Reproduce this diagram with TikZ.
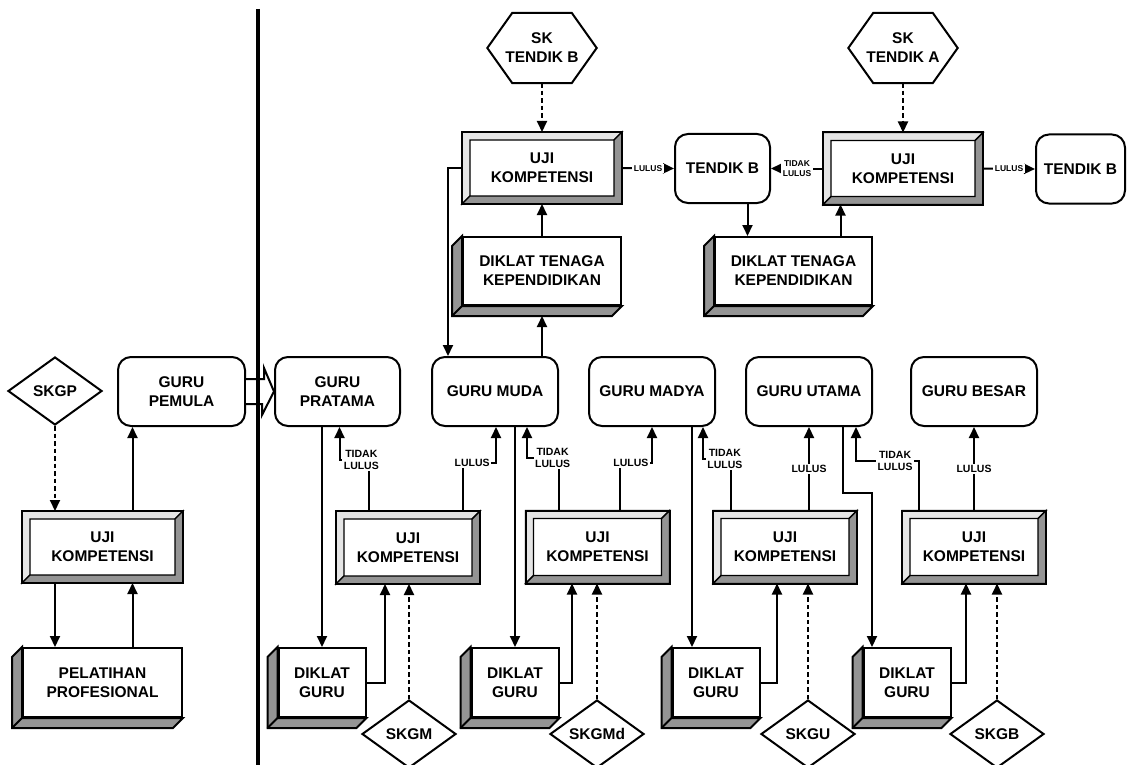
\documentclass[tikz,border=0pt]{standalone}
\usepackage{fontspec}
\setmainfont{Liberation Sans}
\usetikzlibrary{arrows.meta}
\usetikzlibrary{calc}
\usetikzlibrary{shapes.geometric}
\colorlet{bevlight}{black!10}
\colorlet{bevdark}{black!42}
\tikzset{
	every node/.style={font=\fontsize{15.5}{19}\selectfont\bfseries,align=center},
	grade/.style={rectangle,rounded corners=13pt,draw,line width=2pt,fill=white,minimum width=126pt,minimum height=69pt,inner sep=0pt},
	uji/.style={rectangle,draw,line width=2pt,fill=white,minimum width=142pt,minimum height=71pt,inner sep=0pt},
	diklat/.style={rectangle,draw,line width=2pt,fill=white,minimum width=87pt,minimum height=69pt,inner sep=0pt},
	sk/.style={diamond,aspect=1.4,draw,line width=2pt,fill=white,minimum width=94pt,minimum height=68pt,inner sep=0pt},
	hexa/.style={rectangle,minimum width=109pt,minimum height=70pt,inner sep=0pt},
	kern/.style={line width=2pt,-{Triangle[length=11pt,width=10pt]}},
	dkern/.style={kern,dash pattern=on 4.5pt off 3pt},
	labl/.style={fill=white,inner sep=1.5pt,font=\fontsize{10.5}{12.5}\selectfont\bfseries},
	slabl/.style={labl,font=\fontsize{8.5}{9.5}\selectfont\bfseries},
}
\begin{document}
\begin{tikzpicture}[x=1pt,y=-1pt]
\useasboundingbox (0,0) rectangle (1127,765);

\node (skgp) at (55,391) [sk] {SKGP};
\node (pemula) at (181.5,391.5) [grade,minimum width=127pt] {GURU\\PEMULA};
\node (ujip) at (102.5,547) [uji,minimum width=159pt,minimum height=70pt] {UJI\\KOMPETENSI};
\node (pel) at (102.5,682.5) [diklat,minimum width=159pt] {PELATIHAN\\PROFESIONAL};

\node (pratama) at (337.5,391.5) [grade,minimum width=125pt] {GURU\\PRATAMA};
\node (muda) at (495,391.5) [grade] {GURU MUDA};
\node (madya) at (652,391.5) [grade] {GURU MADYA};
\node (utama) at (809,391.5) [grade] {GURU UTAMA};
\node (besar) at (974,391.5) [grade] {GURU BESAR};

\node (uji1) at (408,547.5) [uji] {UJI\\KOMPETENSI};
\node (uji2) at (597.5,547) [uji] {UJI\\KOMPETENSI};
\node (uji3) at (785,547) [uji] {UJI\\KOMPETENSI};
\node (uji4) at (974,547) [uji] {UJI\\KOMPETENSI};

\node (dg1) at (322,682.5) [diklat] {DIKLAT\\GURU};
\node (dg2) at (515,682.5) [diklat] {DIKLAT\\GURU};
\node (dg3) at (716,682.5) [diklat] {DIKLAT\\GURU};
\node (dg4) at (907,682.5) [diklat] {DIKLAT\\GURU};

\node (skgm) at (409,734) [sk] {SKGM};
\node (skgmd) at (597,734) [sk] {SKGMd};
\node (skgu) at (808,734) [sk] {SKGU};
\node (skgb) at (997,734) [sk] {SKGB};

\node (skb) at (542,48) [hexa] {SK\\TENDIK B};
\node (ska) at (903,48) [hexa] {SK\\TENDIK A};
\node (ut1) at (542,168) [uji,minimum width=158pt,minimum height=70pt] {UJI\\KOMPETENSI};
\node (ut2) at (903,168.5) [uji,minimum width=158pt,minimum height=70pt] {UJI\\KOMPETENSI};
\node (tb1) at (722.5,168.5) [grade,minimum width=95pt] {TENDIK B};
\node (tb2) at (1080.5,169) [grade,minimum width=89pt] {TENDIK B};
\node (dtk1) at (542,271) [diklat,minimum width=158pt,minimum height=68pt] {DIKLAT TENAGA\\KEPENDIDIKAN};
\node (dtk2) at (793.5,271) [diklat,minimum width=157pt,minimum height=68pt] {DIKLAT TENAGA\\KEPENDIDIKAN};

\foreach \n in {skb,ska}
  \draw[line width=2pt] (\n.west) -- ([xshift=25pt]\n.north west) -- ([xshift=-25pt]\n.north east) -- (\n.east) -- ([xshift=-25pt]\n.south east) -- ([xshift=25pt]\n.south west) -- cycle;
\foreach \n in {ujip,uji1,uji2,uji3,uji4,ut1,ut2} {
  \draw[line width=1.4pt,fill=bevlight] (\n.south west) |- (\n.north east) -- ++(-8,8) -| ($(\n.south west)+(8,-8)$) -- cycle;
  \draw[line width=1.4pt,fill=bevdark] (\n.north east) |- (\n.south west) -- ++(8,-8) -| ($(\n.north east)+(-8,8)$) -- cycle;
  \draw[line width=2pt] (\n.south west) rectangle (\n.north east);
}
\foreach \n in {pel,dg1,dg2,dg3,dg4,dtk1,dtk2} {
  \draw[line width=2pt,fill=bevdark] (\n.north west) -- ++(-10,10) |- ($(\n.south east)+(-10,10)$) -- (\n.south east) -- (\n.south west) -- cycle;
  \draw[line width=2pt] (\n.south west) -- ++(-10,10);
}

\draw[dkern] (skgp.south) -- (skgp.south |- ujip.north);
\draw[kern] ([xshift=30pt]ujip.north) -- ([xshift=30pt]ujip.north |- pemula.south);
\draw[kern] (ujip.south -| skgp.south) -- (pel.north -| skgp.south);
\draw[kern] ([xshift=30pt]pel.north) -- ([xshift=30pt]pel.north |- ujip.south);
\draw[line width=2pt,fill=white] ([yshift=12.5pt]pemula.east) -- ++(18,0) -- ++(0,-11) -- (pratama.west) -- ++(-12,23.5) -- ++(0,-11) -- ([yshift=-12.5pt]pemula.east);

\draw[kern] (pratama.south -| dg1.north) -- (dg1.north);
\draw[kern] (dg1.east) -| ([xshift=-23pt]uji1.south);
\draw[dkern] (skgm.north) -- (skgm.north |- uji1.south);
\draw[kern] ([xshift=-39pt]uji1.north) |- node[labl,pos=.63] {TIDAK\\LULUS} ([xshift=2pt,yshift=-33pt]pratama.south) -- ([xshift=2pt]pratama.south);
\draw[kern] ([xshift=55pt]uji1.north) |- node[labl,pos=.64] {LULUS} ([xshift=1pt,yshift=-36pt]muda.south) -- ([xshift=1pt]muda.south);

\draw[kern] (muda.south -| dg2.north) -- (dg2.north);
\draw[kern] (dg2.east) -| ([xshift=-25.5pt]uji2.south);
\draw[dkern] (skgmd.north) -- (skgmd.north |- uji2.south);
\draw[kern] ([xshift=-38.5pt]uji2.north) |- node[labl,pos=.6] {TIDAK\\LULUS} ([xshift=32pt,yshift=-31pt]muda.south) -- ([xshift=32pt]muda.south);
\draw[kern] ([xshift=22.5pt]uji2.north) |- node[labl,pos=.67] {LULUS} ([yshift=-36pt]madya.south) -- (madya.south);

\draw[kern] ([xshift=40pt]madya.south) -- ([xshift=40pt]madya.south |- dg3.north);
\draw[kern] (dg3.east) -| ([xshift=-8pt]uji3.south);
\draw[dkern] (skgu.north) -- (skgu.north |- uji3.south);
\draw[kern] ([xshift=-54pt]uji3.north) |- node[labl,pos=.61] {TIDAK\\LULUS} ([xshift=51pt,yshift=-32pt]madya.south) -- ([xshift=51pt]madya.south);
\draw[kern] (uji3.north -| utama.south) -- node[labl] {LULUS} (utama.south);

\draw[kern] ([xshift=34pt]utama.south) -- ++(0,66) -| ([xshift=-35pt]dg4.north);
\draw[kern] (dg4.east) -| ([xshift=-8pt]uji4.south);
\draw[dkern] (skgb.north) -- (skgb.north |- uji4.south);
\draw[kern] ([xshift=-55pt]uji4.north) |- node[labl,pos=.69] {TIDAK\\LULUS} ([xshift=47pt,yshift=-34pt]utama.south) -- ([xshift=47pt]utama.south);
\draw[kern] (uji4.north) -- node[labl] {LULUS} (besar.south);

\draw[dkern] (skb.south) -- (ut1.north);
\draw[kern] (dtk1.north) -- (ut1.south);
\draw[kern] (ut1.east) -- node[slabl] {LULUS} (tb1.west);
\draw[kern] ([xshift=25pt]tb1.south) -- ([xshift=25pt]tb1.south |- dtk2.north);
\draw[kern] ([xshift=47pt]dtk2.north) -- ([xshift=47pt]dtk2.north |- ut2.south);
\draw[dkern] (ska.south) -- (ut2.north);
\draw[kern] (ut2.west) -- node[slabl] {TIDAK\\LULUS} (tb1.east);
\draw[kern] (ut2.east) -- node[slabl] {LULUS} (tb2.west);
\draw[kern] (ut1.west) -| ([xshift=-47pt]muda.north);
\draw[kern] (muda.north -| dtk1.south) -- ([yshift=-10pt]dtk1.south);

\draw[line width=3.5pt] (258,9) -- (258,765);
\end{tikzpicture}
\end{document}
